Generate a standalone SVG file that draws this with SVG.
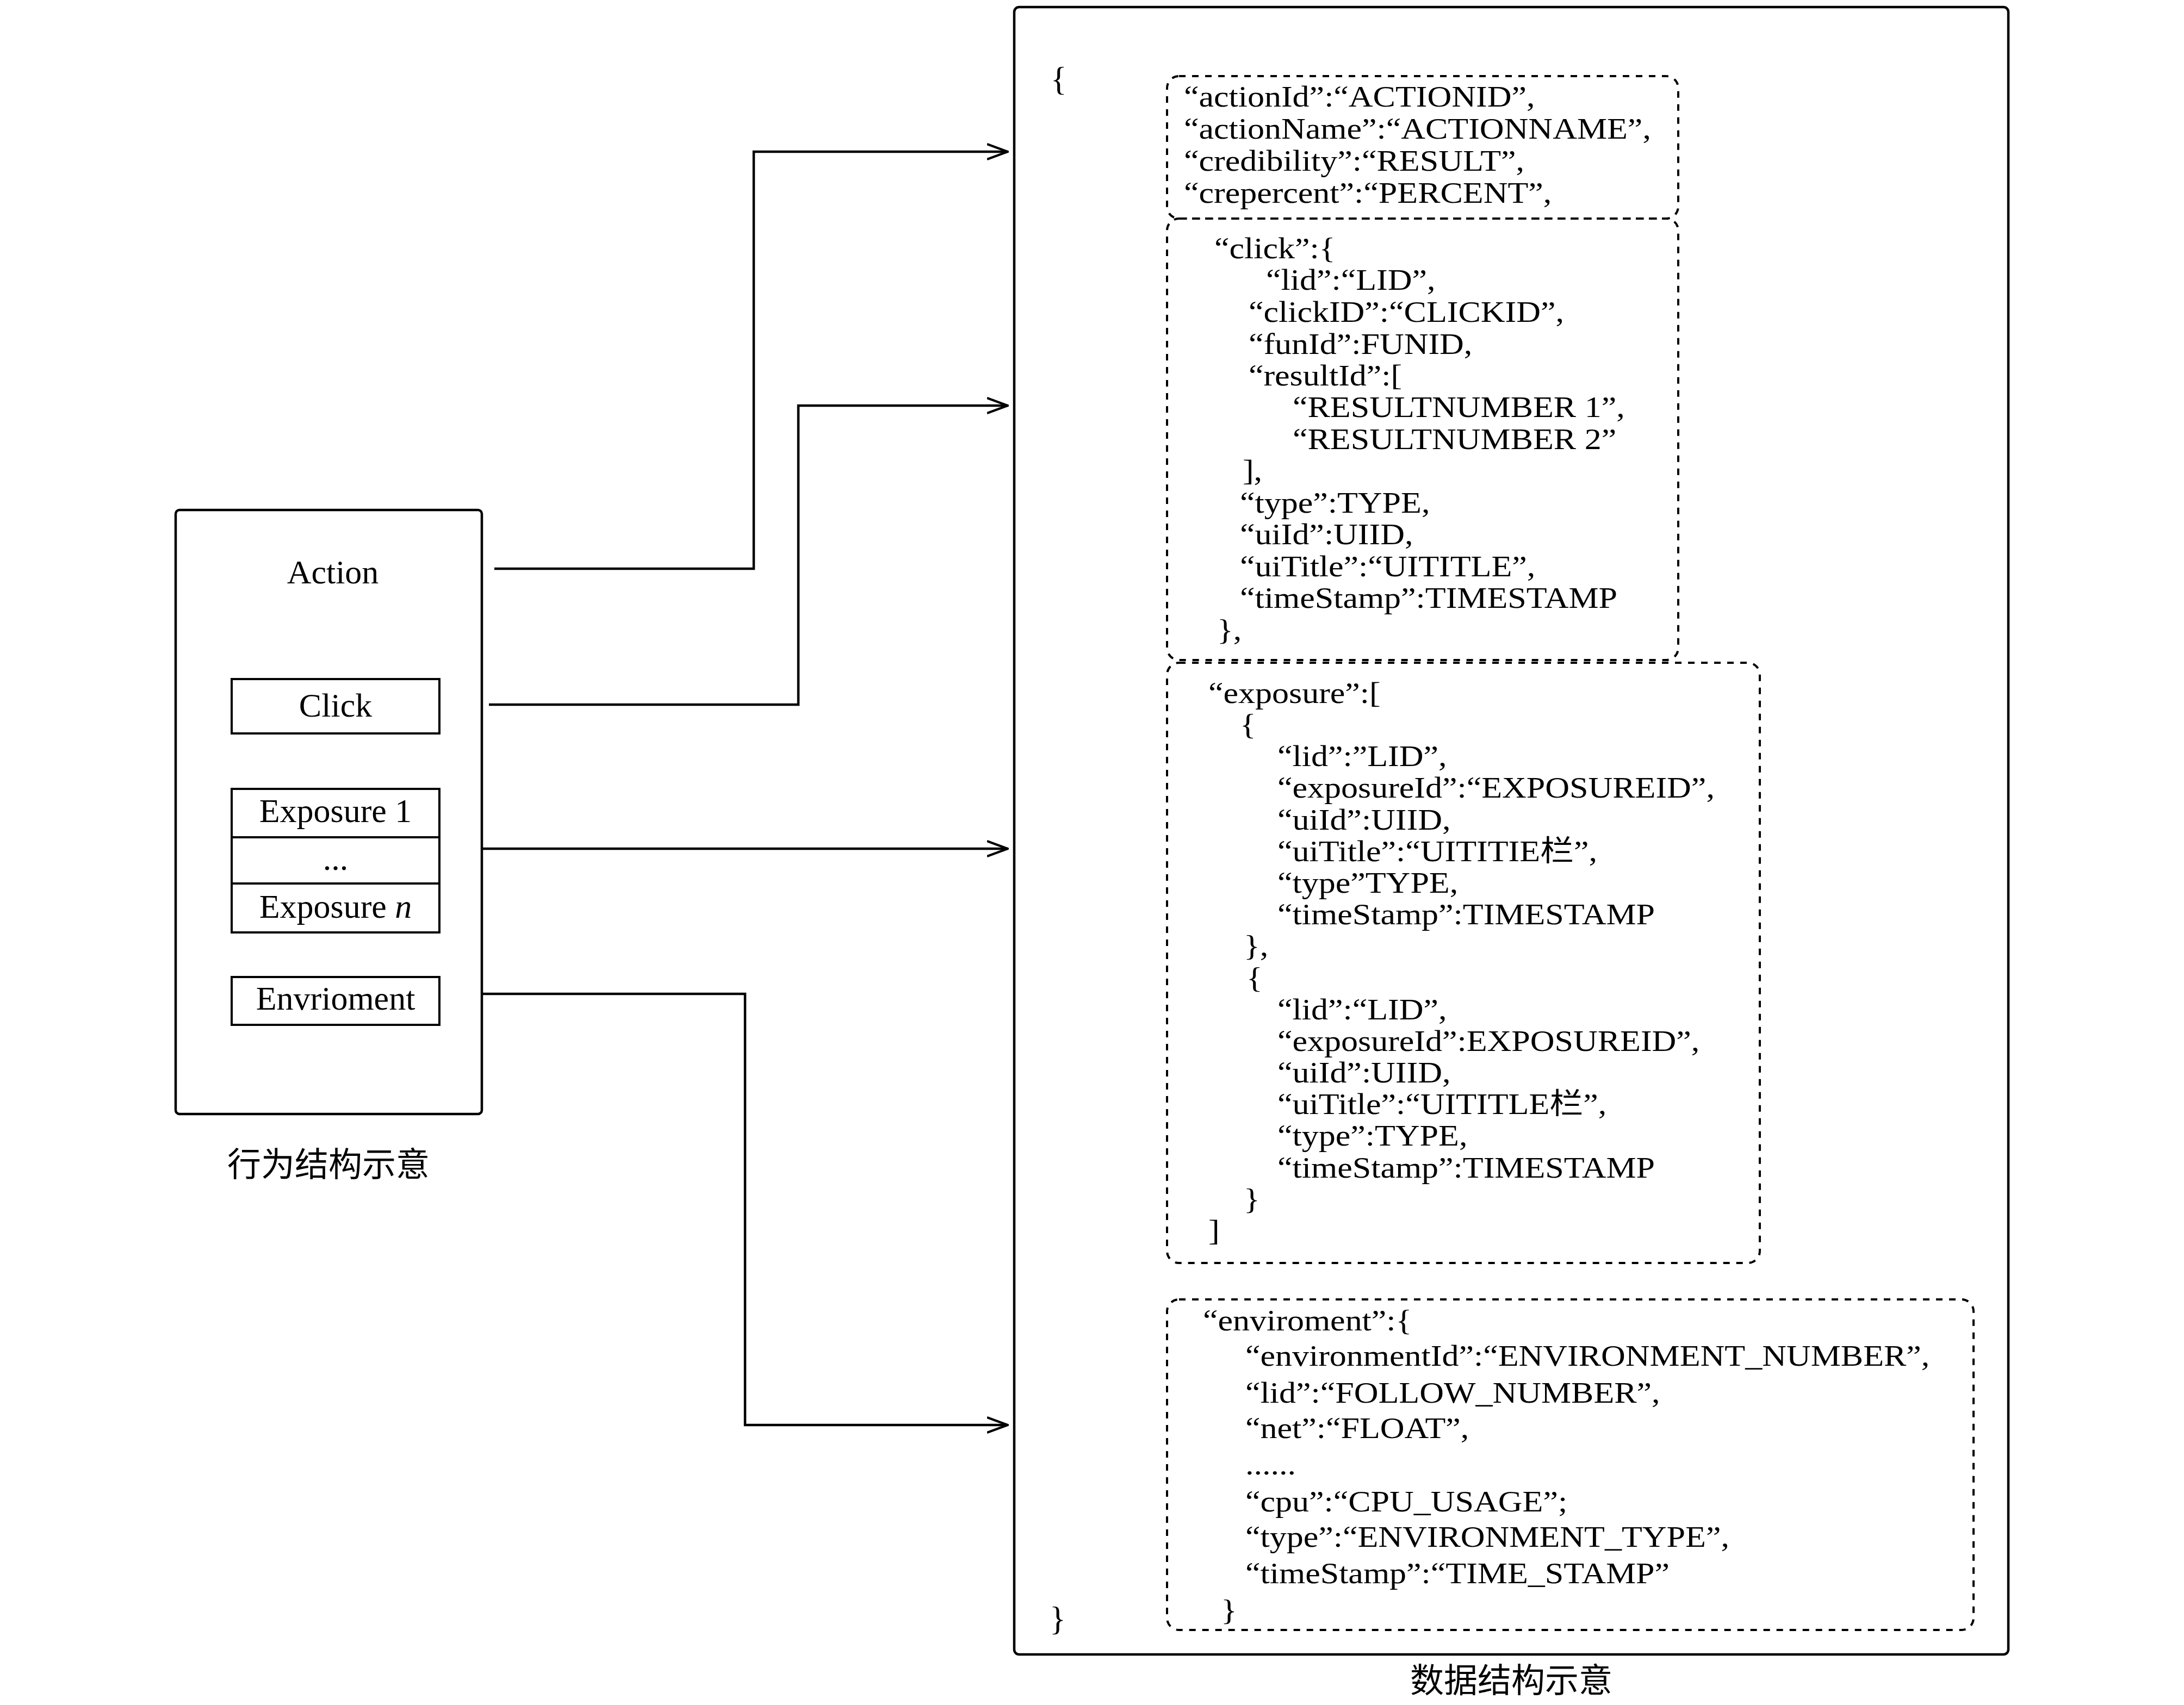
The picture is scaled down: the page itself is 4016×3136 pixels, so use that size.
<svg xmlns="http://www.w3.org/2000/svg" width="4016" height="3136" viewBox="0 0 4016 3136">
<defs>
<style>
.bg{fill:#fff}
.box{fill:none;stroke:#000;stroke-width:4.5}
.ibox{fill:none;stroke:#000;stroke-width:4}
.dash{fill:none;stroke:#000;stroke-width:4;stroke-dasharray:12 12}
.conn{fill:none;stroke:#000;stroke-width:4.5}
.t{font-family:"Liberation Serif","Noto Sans CJK SC",serif;font-size:62px;fill:#000}
.j{font-family:"Liberation Serif","Noto Sans CJK SC",serif;font-size:54px;fill:#000}
.c{text-anchor:middle}
.cap{font-family:"Noto Sans CJK SC","Liberation Serif",sans-serif;font-size:62px;fill:#000;text-anchor:middle}
</style>
<marker id="arr" viewBox="0 0 20 20" refX="19" refY="10" markerWidth="40" markerHeight="40" markerUnits="userSpaceOnUse" orient="auto">
<path d="M0,3 L19,10 L0,17" fill="none" stroke="#000" stroke-width="2.2"/>
</marker>
</defs>
<rect class="bg" x="0" y="0" width="4016" height="3136"/>

<g id="action">
<rect class="box" x="323" y="938" width="563" height="1111" rx="7"/>
<text class="t c" x="612" y="1073">Action</text>
<g id="click">
<rect class="ibox" x="426" y="1249" width="382" height="100"/>
<text class="t c" x="617" y="1318">Click</text>
</g>
<g id="exposure">
<rect class="ibox" x="426" y="1451" width="382" height="264"/>
<line class="ibox" x1="426" y1="1540" x2="808" y2="1540"/>
<line class="ibox" x1="426" y1="1625" x2="808" y2="1625"/>
<text class="t c" x="617" y="1512">Exposure 1</text>
<text class="t c" x="617" y="1600">...</text>
<text class="t c" x="617" y="1688">Exposure <tspan font-style="italic">n</tspan></text>
</g>
<g id="envrioment">
<rect class="ibox" x="426" y="1797" width="382" height="88"/>
<text class="t c" x="617" y="1857">Envrioment</text>
</g>
<text class="cap" x="604" y="2164">行为结构示意</text>
</g>

<g id="data">
<rect class="box" x="1865" y="13" width="1828" height="3030" rx="9"/>
<text class="t" x="1932" y="166">{</text>
<text class="t" x="1930" y="2998">}</text>

<g id="data-action">
<rect class="dash" x="2146" y="140" width="940" height="262" rx="22"/>
<g transform="scale(1.1481,1)">
<text class="j" x="1896.2" y="196">“actionId”:“ACTIONID”,</text>
<text class="j" x="1896.2" y="255">“actionName”:“ACTIONNAME”,</text>
<text class="j" x="1896.2" y="314">“credibility”:“RESULT”,</text>
<text class="j" x="1896.2" y="373">“crepercent”:“PERCENT”,</text>
</g>
</g>

<g id="data-click">
<rect class="dash" x="2146" y="402" width="940" height="812" rx="22"/>
<g transform="scale(1.1481,1)">
<text class="j" x="1944.9" y="475">“click”:{</text>
<text class="j" x="2027.7" y="533.5">“lid”:“LID”,</text>
<text class="j" x="1999.8" y="592">“clickID”:“CLICKID”,</text>
<text class="j" x="1999.8" y="650.5">“funId”:FUNID,</text>
<text class="j" x="1999.8" y="709">“resultId”:[</text>
<text class="j" x="2070.4" y="767.5">“RESULTNUMBER 1”,</text>
<text class="j" x="2070.4" y="826">“RESULTNUMBER 2”</text>
<text class="j" x="1990.2" y="884.5">],</text>
<text class="j" x="1985.9" y="943">“type”:TYPE,</text>
<text class="j" x="1985.9" y="1001.5">“uiId”:UIID,</text>
<text class="j" x="1985.9" y="1060">“uiTitle”:“UITITLE”,</text>
<text class="j" x="1985.9" y="1118.5">“timeStamp”:TIMESTAMP</text>
<text class="j" x="1949.3" y="1177">},</text>
</g>
</g>

<g id="data-exposure">
<rect class="dash" x="2146" y="1219" width="1090" height="1104" rx="22"/>
<g transform="scale(1.1481,1)">
<text class="j" x="1935.4" y="1293">“exposure”:[</text>
<text class="j" x="1985.9" y="1351.2">{</text>
<text class="j" x="2046" y="1409.4">“lid”:”LID”,</text>
<text class="j" x="2046" y="1467.5">“exposureId”:“EXPOSUREID”,</text>
<text class="j" x="2046" y="1525.7">“uiId”:UIID,</text>
<text class="j" x="2046" y="1583.9">“uiTitle”:“UITITIE栏”,</text>
<text class="j" x="2046" y="1642.1">“type”TYPE,</text>
<text class="j" x="2046" y="1700.3">“timeStamp”:TIMESTAMP</text>
<text class="j" x="1992" y="1758.4">},</text>
<text class="j" x="1996.3" y="1816.6">{</text>
<text class="j" x="2046" y="1874.8">“lid”:“LID”,</text>
<text class="j" x="2046" y="1933">“exposureId”:EXPOSUREID”,</text>
<text class="j" x="2046" y="1991.2">“uiId”:UIID,</text>
<text class="j" x="2046" y="2049.3">“uiTitle”:“UITITLE栏”,</text>
<text class="j" x="2046" y="2107.5">“type”:TYPE,</text>
<text class="j" x="2046" y="2165.7">“timeStamp”:TIMESTAMP</text>
<text class="j" x="1992" y="2223.9">}</text>
<text class="j" x="1935.4" y="2282">]</text>
</g>
</g>

<g id="data-enviroment">
<rect class="dash" x="2146" y="2390" width="1483" height="608" rx="22"/>
<g transform="scale(1.1481,1)">
<text class="j" x="1926.7" y="2447">“enviroment”:{</text>
<text class="j" x="1994.6" y="2512">“environmentId”:“ENVIRONMENT_NUMBER”,</text>
<text class="j" x="1994.6" y="2580">“lid”:“FOLLOW_NUMBER”,</text>
<text class="j" x="1994.6" y="2645">“net”:“FLOAT”,</text>
<text class="j" x="1994.6" y="2712">......</text>
<text class="j" x="1994.6" y="2780">“cpu”:“CPU_USAGE”;</text>
<text class="j" x="1994.6" y="2845">“type”:“ENVIRONMENT_TYPE”,</text>
<text class="j" x="1994.6" y="2912">“timeStamp”:“TIME_STAMP”</text>
<text class="j" x="1955.4" y="2980">}</text>
</g>
</g>
<text class="cap" x="2779" y="3113">数据结构示意</text>
</g>

<g id="connectors">
<path class="conn" d="M909,1046 H1386 V279 H1853" marker-end="url(#arr)"/>
<path class="conn" d="M899,1296 H1468 V746 H1853" marker-end="url(#arr)"/>
<path class="conn" d="M886,1561 H1853" marker-end="url(#arr)"/>
<path class="conn" d="M886,1828 H1370 V2621 H1853" marker-end="url(#arr)"/>
</g>
</svg>
